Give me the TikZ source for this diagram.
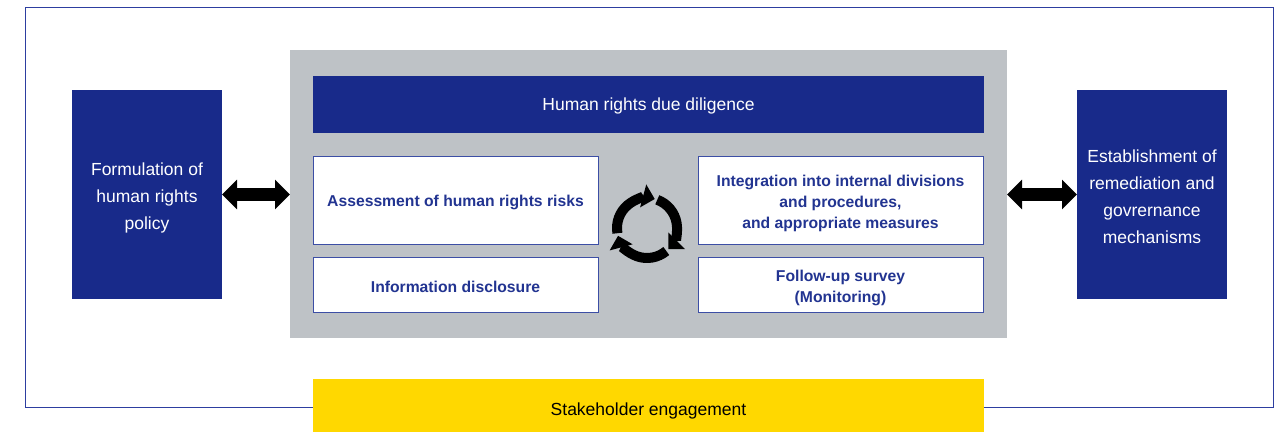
\documentclass[tikz,border=0pt]{standalone}
\usepackage{fontspec}
\setmainfont{Liberation Sans}
\usetikzlibrary{arrows.meta}
\definecolor{navy}{RGB}{24,42,138}
\definecolor{boxtext}{RGB}{34,52,145}
\definecolor{boxline}{RGB}{60,78,165}
\definecolor{framecol}{RGB}{45,62,160}
\definecolor{panel}{RGB}{190,194,198}
\definecolor{sun}{RGB}{255,216,0}
\tikzset{
  blk/.style={rectangle, inner sep=0pt, outer sep=0pt},
  sidebox/.style={blk, fill=navy, minimum width=150pt, minimum height=209pt},
  sidetext/.style={align=center, text=white, font=\fontsize{17.5}{27}\selectfont},
  stepbox/.style={blk, fill=white, draw=boxline, line width=0.9pt, minimum width=285pt},
  steptext/.style={align=center, text=boxtext, font=\bfseries\fontsize{15.7}{21}\selectfont},
  dblarrow/.style={line width=13pt, {Triangle[width=29pt,length=15pt]}-{Triangle[width=29pt,length=15pt]}},
  cyc/.style={line width=10pt, -{Triangle[width=23pt,length=12pt]}}
}
\begin{document}
\begin{tikzpicture}[x={(1pt,0)}, y={(0,-1pt)}]
\useasboundingbox (0,0) rectangle (1281,432);
\node[blk, draw=framecol, line width=1pt, minimum width=1248pt, minimum height=400pt] (frame) at (649,207) {};
\node[blk, fill=panel, minimum width=717pt, minimum height=288pt] (panel) at (648.5,194) {};
\node[sidebox] (left) at (147,194.5) {};
\node[sidetext] (lefttext) at (147,197.5) {Formulation of\\human rights\\policy};
\node[sidebox] (right) at (1152,194.5) {};
\node[sidetext] (righttext) at (1152,196.5) {Establishment of\\remediation and\\govrernance\\mechanisms};
\node[blk, fill=navy, minimum width=671pt, minimum height=57pt] (hrdd) at (648.5,104.5) {};
\node[text=white, font=\fontsize{17.5}{21}\selectfont] (hrddtext) at (648.5,106) {Human rights due diligence};
\node[stepbox, minimum height=88pt] (assess) at (455.5,200) {};
\node[steptext] (assesstext) at (455.5,202.5) {Assessment of human rights risks};
\node[stepbox, minimum height=55pt] (info) at (455.5,284.5) {};
\node[steptext] (infotext) at (455.5,286.5) {Information disclosure};
\node[stepbox, minimum height=88pt] (integ) at (840.5,200) {};
\node[steptext] (integtext) at (840.5,203.5) {Integration into internal divisions\\and procedures,\\and appropriate measures};
\node[stepbox, minimum height=55pt] (follow) at (840.5,284.5) {};
\node[steptext] (followtext) at (840.5,288) {Follow-up survey\\(Monitoring)};
\node[blk, fill=sun, minimum width=671pt, minimum height=53pt] (stake) at (648.5,405.5) {};
\node[text=black, font=\fontsize{17.5}{21}\selectfont] (staketext) at (648.5,411) {Stakeholder engagement};
\draw[dblarrow] (left.east) -- (left.east -| panel.west);
\draw[dblarrow] (right.west -| panel.east) -- (right.west);
\coordinate (cc) at (647,228);
\draw[cyc] (cc) ++(170:30) arc[start angle=170, end angle=285, radius=30];
\draw[cyc] (cc) ++(290:30) arc[start angle=290, end angle=405, radius=30];
\draw[cyc] (cc) ++(50:30) arc[start angle=50, end angle=165, radius=30];
\end{tikzpicture}
\end{document}
